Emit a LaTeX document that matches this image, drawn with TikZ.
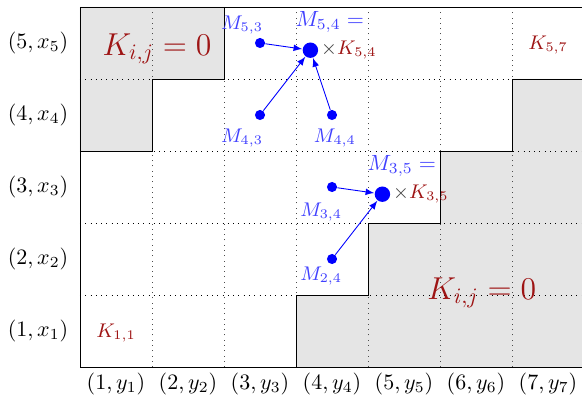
\documentclass[tikz,border=0pt]{standalone}
\usepackage{amsmath,amssymb}
\usepackage{xcolor}
\usepackage{tikz}
\usetikzlibrary{positioning}
\definecolor{kred}{rgb}{0.62,0.08,0.08}
\definecolor{mblue}{rgb}{0.25,0.25,1}

\begin{document}
\begin{tikzpicture}[>=latex, x=1.15cm, y=1.15cm,
  dot/.style={circle, fill=blue, inner sep=0pt, minimum size=4.6pt},
  bigdot/.style={circle, fill=blue, inner sep=0pt, minimum size=7pt},
  mlab/.style={mblue, font=\small},
  klab/.style={kred, font=\small}]
  \useasboundingbox (-1.111,-0.486) rectangle (6.972,5.097);

  % zero regions
  \fill[gray!20] (0,5) -- (2,5) -- (2,4) -- (1,4) -- (1,3) -- (0,3) -- cycle;
  \fill[gray!20] (3,0) -- (3,1) -- (4,1) -- (4,2) -- (5,2) -- (5,3) -- (6,3) -- (6,4) -- (7,4) -- (7,0) -- cycle;

  \foreach \i in {1,...,6} \draw[dotted, black!70] (\i,0) -- (\i,5);
  \foreach \j in {1,...,4} \draw[dotted] (0,\j) -- (7,\j);

  \draw (2,5) -- (2,4) -- (1,4) -- (1,3) -- (0,3);
  \draw (3,0) -- (3,1) -- (4,1) -- (4,2) -- (5,2) -- (5,3) -- (6,3) -- (6,4) -- (7,4);
  \draw (0,0) rectangle (7,5);

  % axis labels
  \foreach \i in {1,...,5} \node (r\i) at (-0.583,\i-0.5) {$(\i,x_{\i})$};
  \foreach \j in {1,...,7} \node (c\j) at (\j-0.5,-0.236) {$(\j,y_{\j})$};

  \node[kred, font=\Large] (Ktl) at (1.07,4.42) {$K_{i,j}=0$};
  \node[kred, font=\Large] (Kbr) at (5.58,1.03) {$K_{i,j}=0$};
  \node[klab] (K11) at (0.5,0.47) {$K_{1,1}$};
  \node[klab] (K57) at (6.5,4.47) {$K_{5,7}$};

  % points
  \node[dot] (M53) at (2.5,4.5) {};
  \node[dot] (M43) at (2.5,3.5) {};
  \node[dot] (M44) at (3.5,3.5) {};
  \node[bigdot] (M54) at (3.2,4.4) {};
  \node[dot] (M34) at (3.5,2.5) {};
  \node[dot] (M24) at (3.5,1.5) {};
  \node[bigdot] (M35) at (4.2,2.4) {};

  \node[mlab] (lM53) at (2.25,4.75) {$M_{5,3}$};
  \node[mlab] (lM43) at (2.25,3.18) {$M_{4,3}$};
  \node[mlab] (lM44) at (3.54,3.18) {$M_{4,4}$};
  \node[mlab] (lM34) at (3.35,2.15) {$M_{3,4}$};
  \node[mlab] (lM24) at (3.35,1.26) {$M_{2,4}$};
  \node[mblue] (lM54) at (3.47,4.79) {$M_{5,4}=$};
  \node[mblue] (lM35) at (4.47,2.79) {$M_{3,5}=$};

  \node[right=0pt of M54, inner sep=1pt, font=\small] (K54) {\textcolor{darkgray}{$\times$}\textcolor{kred}{$K_{5,4}$}};
  \node[right=0pt of M35, inner sep=1pt, font=\small] (K35) {\textcolor{darkgray}{$\times$}\textcolor{kred}{$K_{3,5}$}};

  \draw[->, blue] (M53) -- (M54);
  \draw[->, blue] (M43) -- (M54);
  \draw[->, blue] (M44) -- (M54);
  \draw[->, blue] (M34) -- (M35);
  \draw[->, blue] (M24) -- (M35);
\end{tikzpicture}
\end{document}
